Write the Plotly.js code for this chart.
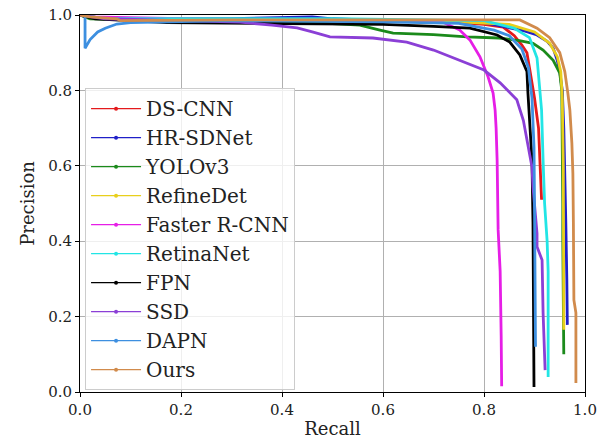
<!DOCTYPE html>
<html>
<head>
<meta charset="utf-8">
<script src="https://cdn.plot.ly/plotly-3.0.1.min.js"></script>
<style>html,body{margin:0;padding:0;background:#fff;}#chart{width:606px;height:439px;}</style>
</head>
<body>
<div id="chart"></div>
<script>
// Model names and colours
const modelNames = ["DS-CNN","HR-SDNet","YOLOv3","RefineDet","Faster R-CNN","RetinaNet","FPN","SSD","DAPN","Ours"];
const modelColors = ["#e41a1c","#2020c8","#1b8a1b","#e8cf1c","#e61ee6","#22e5e5","#000000","#8b3fd6","#3d8fe0","#d18b4c"];

// Recall / precision values
const dscnnRecall    = [0, 0.05, 0.2, 0.4, 0.6, 0.75, 0.8, 0.838, 0.86, 0.875, 0.885, 0.89, 0.9, 0.908, 0.911, 0.913, 0.914];
const dscnnPrec      = [1.0, 0.99, 0.99, 0.988, 0.985, 0.98, 0.975, 0.968, 0.945, 0.92, 0.9, 0.86, 0.78, 0.70, 0.62, 0.55, 0.51];

const hrsdRecall     = [0, 0.05, 0.3, 0.46, 0.5, 0.6, 0.8, 0.85, 0.88, 0.905, 0.925, 0.937, 0.945, 0.95, 0.955, 0.958, 0.96, 0.962, 0.964, 0.965];
const hrsdPrec       = [1.0, 0.99, 0.99, 0.995, 0.99, 0.985, 0.98, 0.965, 0.958, 0.947, 0.93, 0.912, 0.88, 0.85, 0.8, 0.7, 0.6, 0.45, 0.3, 0.178];

const yoloRecall     = [0, 0.02, 0.2, 0.4, 0.46, 0.5, 0.554, 0.594, 0.62, 0.7, 0.766, 0.83, 0.87, 0.897, 0.917, 0.937, 0.95, 0.954, 0.955, 0.956, 0.956, 0.957, 0.958];
const yoloPrec       = [1.0, 0.99, 0.985, 0.982, 0.98, 0.977, 0.973, 0.96, 0.952, 0.948, 0.942, 0.939, 0.932, 0.925, 0.907, 0.88, 0.846, 0.8, 0.7, 0.5, 0.41, 0.25, 0.10];

const refineRecall   = [0, 0.05, 0.4, 0.7, 0.85, 0.9, 0.93, 0.945, 0.952, 0.955, 0.957, 0.958, 0.958];
const refinePrec     = [1.0, 0.99, 0.988, 0.985, 0.975, 0.955, 0.925, 0.89, 0.85, 0.78, 0.6, 0.4, 0.165];

const fasterRecall   = [0, 0.02, 0.2, 0.4, 0.6, 0.7, 0.72, 0.752, 0.772, 0.792, 0.808, 0.818, 0.822, 0.824, 0.826, 0.828, 0.832, 0.834, 0.835];
const fasterPrec     = [1.0, 0.995, 0.99, 0.988, 0.985, 0.982, 0.98, 0.96, 0.934, 0.889, 0.836, 0.793, 0.748, 0.7, 0.615, 0.43, 0.32, 0.15, 0.015];

const retinaRecall   = [0, 0.05, 0.5, 0.8, 0.86, 0.89, 0.905, 0.91, 0.914, 0.917, 0.92, 0.925, 0.927, 0.927];
const retinaPrec     = [1.0, 0.99, 0.99, 0.985, 0.965, 0.94, 0.886, 0.815, 0.748, 0.615, 0.5, 0.4, 0.32, 0.04];

const fpnRecall      = [0, 0.03, 0.172, 0.4, 0.6, 0.7, 0.772, 0.826, 0.851, 0.871, 0.885, 0.887, 0.891, 0.895, 0.897, 0.898, 0.899];
const fpnPrec        = [1.0, 0.99, 0.98, 0.978, 0.975, 0.97, 0.965, 0.947, 0.928, 0.894, 0.85, 0.793, 0.703, 0.615, 0.45, 0.25, 0.013];

const ssdRecall      = [0, 0.05, 0.2, 0.317, 0.38, 0.43, 0.46, 0.495, 0.58, 0.647, 0.70, 0.766, 0.80, 0.832, 0.865, 0.878, 0.888, 0.895, 0.897, 0.905, 0.905, 0.915, 0.917, 0.921];
const ssdPrec        = [1.0, 0.99, 0.985, 0.981, 0.973, 0.966, 0.955, 0.942, 0.939, 0.928, 0.907, 0.872, 0.854, 0.82, 0.775, 0.72, 0.65, 0.597, 0.544, 0.42, 0.385, 0.35, 0.21, 0.058];

const dapnRecall     = [0.01, 0.01, 0.02, 0.035, 0.05, 0.073, 0.1, 0.3, 0.6, 0.75, 0.82, 0.85, 0.875, 0.888, 0.895, 0.899, 0.9, 0.901, 0.902];
const dapnPrec       = [1.0, 0.912, 0.935, 0.955, 0.965, 0.976, 0.98, 0.985, 0.982, 0.978, 0.96, 0.945, 0.91, 0.86, 0.78, 0.65, 0.5, 0.3, 0.12];

const oursRecall     = [0, 0.02, 0.073, 0.08, 0.3, 0.6, 0.871, 0.905, 0.93, 0.95, 0.96, 0.966, 0.97, 0.974, 0.976, 0.977, 0.978, 0.978, 0.982, 0.982];
const oursPrec       = [1.0, 0.995, 0.99, 0.985, 0.987, 0.987, 0.987, 0.965, 0.94, 0.90, 0.85, 0.793, 0.748, 0.66, 0.58, 0.45, 0.32, 0.244, 0.21, 0.024];

const recallSeries = [dscnnRecall, hrsdRecall, yoloRecall, refineRecall, fasterRecall, retinaRecall, fpnRecall, ssdRecall, dapnRecall, oursRecall];
const precSeries   = [dscnnPrec, hrsdPrec, yoloPrec, refinePrec, fasterPrec, retinaPrec, fpnPrec, ssdPrec, dapnPrec, oursPrec];

const tickVals = [0, 0.2, 0.4, 0.6, 0.8, 1.0];
const tickText = ["0.0", "0.2", "0.4", "0.6", "0.8", "1.0"];

const FONT = "DejaVu Serif, serif";
const traces = [];
modelNames.forEach((name, i) => {
  traces.push({
    x: recallSeries[i], y: precSeries[i], type: "scatter", mode: "lines",
    name: name, showlegend: false, legendgroup: name,
    line: {color: modelColors[i], width: 2.8}, hoverinfo: "skip"
  });
});
modelNames.forEach((name, i) => {
  traces.push({
    x: [null], y: [null], type: "scatter", mode: "lines+markers",
    name: name, showlegend: true, legendgroup: name,
    line: {color: modelColors[i], width: 1.2}, marker: {color: modelColors[i], size: 4}
  });
});

const axisCommon = {
  range: [0, 1], tickvals: tickVals, ticktext: tickText,
  showgrid: true, gridcolor: "#b0b0b0", gridwidth: 1,
  showline: true, linecolor: "#000", linewidth: 1, mirror: true,
  ticks: "outside", ticklen: 4, tickcolor: "#000", tickwidth: 1,
  zeroline: false, tickfont: {family: FONT, size: 15, color: "#222"}
};

const layout = {
  width: 606, height: 439,
  margin: {l: 80, r: 21, t: 15, b: 47},
  paper_bgcolor: "#fff", plot_bgcolor: "#fff",
  font: {family: FONT, color: "#222"},
  xaxis: Object.assign({}, axisCommon, {title: {text: "Recall", font: {family: FONT, size: 18, color: "#222"}, standoff: 4}}),
  yaxis: Object.assign({}, axisCommon, {title: {text: "Precision", font: {family: FONT, size: 18, color: "#222"}, standoff: 8}}),
  legend: {
    x: 0.01, y: 0.806, xanchor: "left", yanchor: "top",
    bgcolor: "rgba(255,255,255,0.8)", bordercolor: "#cccccc", borderwidth: 1,
    font: {family: FONT, size: 20, color: "#222"}, itemwidth: 50, traceorder: "normal"
  },
  showlegend: true
};

Plotly.newPlot("chart", traces, layout, {displayModeBar: false, staticPlot: true});
</script>
</body>
</html>
